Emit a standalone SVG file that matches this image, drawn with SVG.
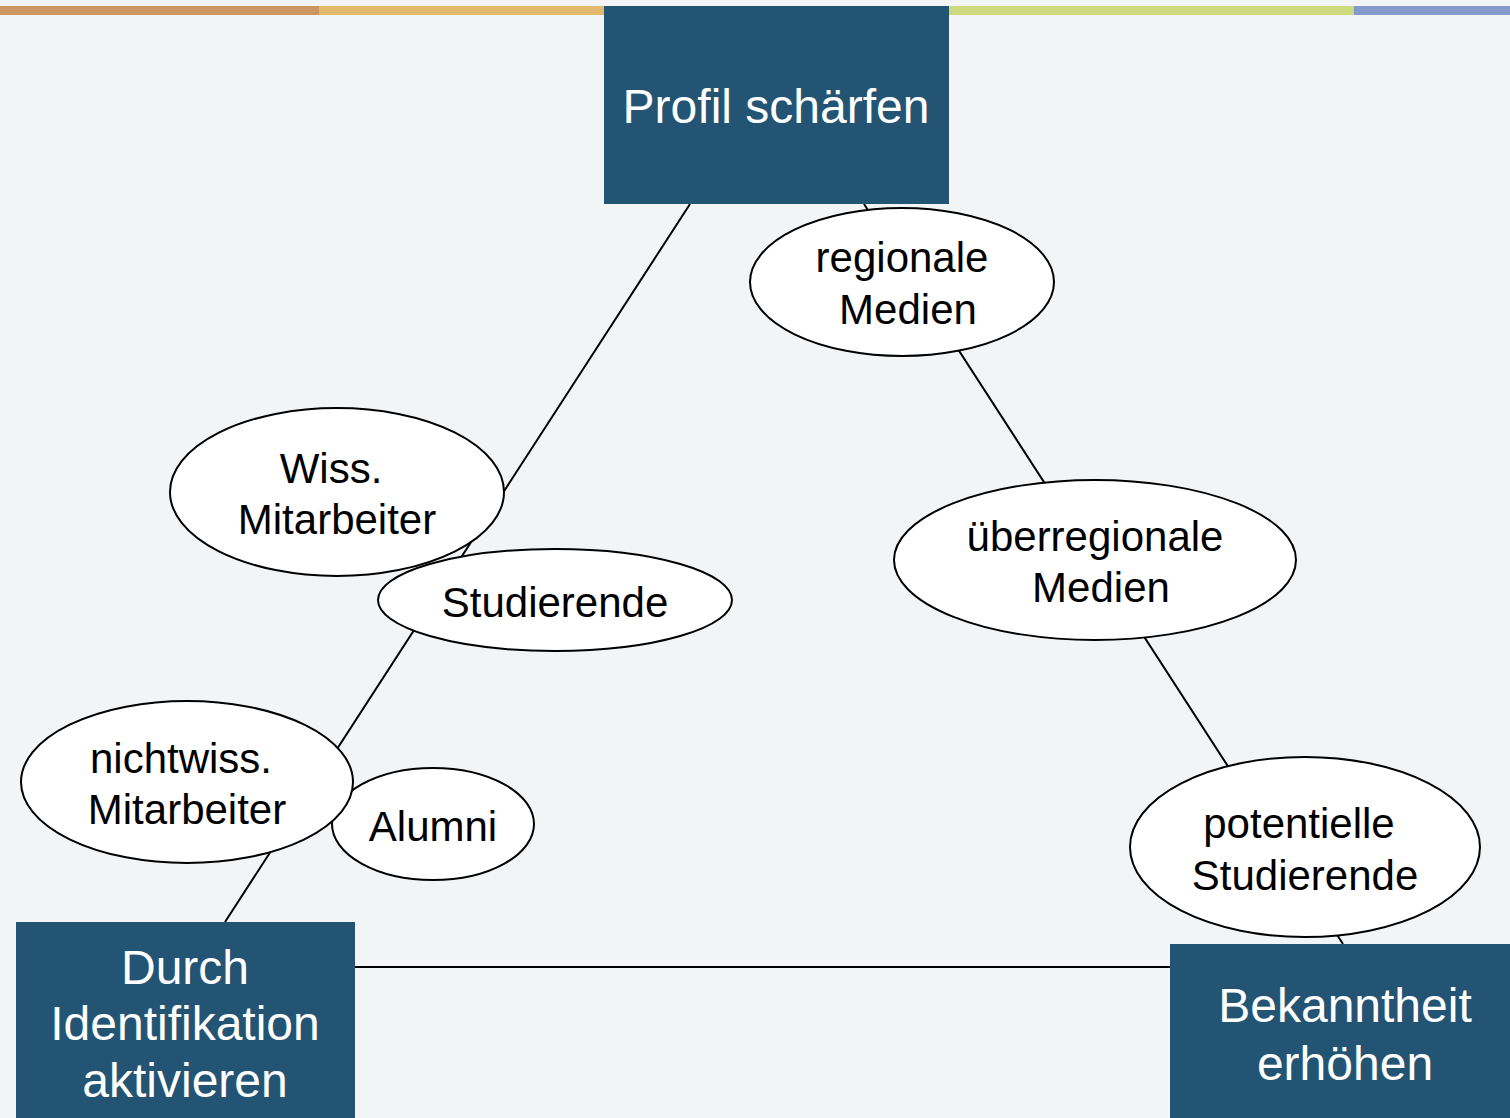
<svg xmlns="http://www.w3.org/2000/svg" width="1510" height="1118" viewBox="0 0 1510 1118">
<style>
.box{fill:#235473}
.bt{font-family:"Liberation Sans",Arial,sans-serif;font-size:48px;fill:#ffffff;text-anchor:middle}
.el{fill:#ffffff;stroke:#000000;stroke-width:2}
.et{font-family:"Liberation Sans",Arial,sans-serif;font-size:42px;fill:#000000;text-anchor:middle}
.ln{stroke:#000000;stroke-width:2;fill:none}
</style>
<rect x="0" y="0" width="1510" height="1118" fill="#f3f4f6"/>
<g id="topbar">
<rect x="0" y="6" width="319" height="9" fill="#cd9660"/>
<rect x="319" y="6" width="285" height="9" fill="#e1b96d"/>
<rect x="949" y="6" width="405" height="9" fill="#ccd97f"/>
<rect x="1354" y="6" width="156" height="9" fill="#8599cb"/>
</g>
<g id="connectors">
<line class="ln" x1="690" y1="204" x2="225" y2="922"/>
<line class="ln" x1="864" y1="204" x2="1343" y2="944"/>
<line class="ln" x1="355" y1="967" x2="1170" y2="967"/>
</g>
<g id="profil">
<rect class="box" x="604" y="6" width="345" height="198"/>
<text class="bt" x="776" y="123">Profil schärfen</text>
</g>
<g id="durch">
<rect class="box" x="16" y="922" width="339" height="196"/>
<text class="bt" x="185" y="984">Durch</text>
<text class="bt" x="185" y="1040">Identifikation</text>
<text class="bt" x="185" y="1097">aktivieren</text>
</g>
<g id="bekanntheit">
<rect class="box" x="1170" y="944" width="340" height="174"/>
<text class="bt" x="1345" y="1022">Bekanntheit</text>
<text class="bt" x="1345" y="1080">erhöhen</text>
</g>
<g id="regionale">
<ellipse class="el" cx="902" cy="282" rx="152" ry="74"/>
<text class="et" x="902" y="272">regionale</text>
<text class="et" x="908" y="324">Medien</text>
</g>
<g id="wiss">
<ellipse class="el" cx="337" cy="492" rx="167" ry="84"/>
<text class="et" x="331" y="483">Wiss.</text>
<text class="et" x="337" y="534">Mitarbeiter</text>
</g>
<g id="studierende">
<ellipse class="el" cx="555" cy="600" rx="177" ry="51"/>
<text class="et" x="555" y="617">Studierende</text>
</g>
<g id="ueberregionale">
<ellipse class="el" cx="1095" cy="560" rx="201" ry="80"/>
<text class="et" x="1095" y="551">überregionale</text>
<text class="et" x="1101" y="602">Medien</text>
</g>
<g id="alumni">
<ellipse class="el" cx="433" cy="824" rx="101" ry="56"/>
<text class="et" x="433" y="841">Alumni</text>
</g>
<g id="nichtwiss">
<ellipse class="el" cx="187" cy="782" rx="166" ry="81"/>
<text class="et" x="181" y="773">nichtwiss.</text>
<text class="et" x="187" y="824">Mitarbeiter</text>
</g>
<g id="potentielle">
<ellipse class="el" cx="1305" cy="847" rx="175" ry="90"/>
<text class="et" x="1299" y="838">potentielle</text>
<text class="et" x="1305" y="890">Studierende</text>
</g>
</svg>
